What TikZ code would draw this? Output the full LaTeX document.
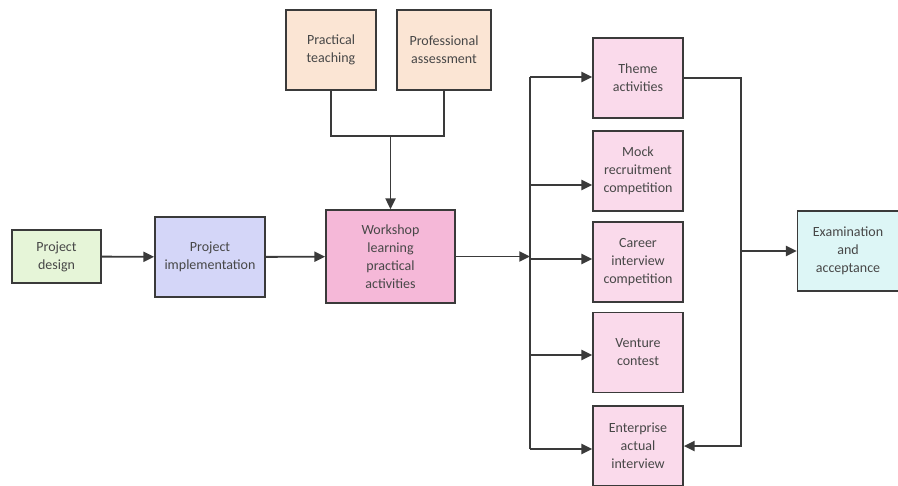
\documentclass[tikz,border=0pt]{standalone}
\usepackage{fontspec}
\setmainfont{Carlito}
\usepackage{tikz}
\usepackage{xcolor}
\usetikzlibrary{arrows.meta}
\definecolor{linegray}{HTML}{3A3A3A}
\definecolor{designgreen}{HTML}{E6F5D8}
\definecolor{implblue}{HTML}{D4D6F8}
\definecolor{workpink}{HTML}{F5B8D8}
\definecolor{peach}{HTML}{FBE5D4}
\definecolor{lightpink}{HTML}{FADAEB}
\definecolor{lightcyan}{HTML}{DDF6F6}

\begin{document}
\begin{tikzpicture}[
  x=0.75pt, y=-0.75pt,
  box/.style={draw=linegray, line width=1.3pt, align=center, inner sep=2pt,
    font=\fontsize{10.5}{13.5}\selectfont, text=black!72},
  arr/.style={draw=linegray, line width=1.4pt, -{Triangle[length=8pt,width=7.5pt]}},
  ln/.style={draw=linegray, line width=1.4pt},
]
  \useasboundingbox (0,0) rectangle (898,485);

  % Main row
  \node[box, fill=designgreen, minimum width=66.75pt, minimum height=39.75pt] (design) at (56.5,256.5) {Project\\design};
  \node[box, fill=implblue, minimum width=82.5pt, minimum height=60pt] (impl) at (210,257) {Project\\implementation};
  \node[box, fill=workpink, minimum width=96.75pt, minimum height=69.75pt] (work) at (390.5,256.5) {Workshop\\learning\\practical\\activities};

  % Top inputs
  \node[box, fill=peach, minimum width=67.5pt, minimum height=60pt] (teach) at (331,50) {Practical\\teaching};
  \node[box, fill=peach, minimum width=70.5pt, minimum height=60pt] (assess) at (444,50) {Professional\\assessment};

  % Right column
  \node[box, fill=lightpink, minimum width=67.5pt, minimum height=60pt] (theme) at (638,78) {Theme\\activities};
  \node[box, fill=lightpink, minimum width=67.5pt, minimum height=60pt] (mock) at (638,171) {Mock\\recruitment\\competition};
  \node[box, fill=lightpink, minimum width=67.5pt, minimum height=60pt] (career) at (638,262) {Career\\interview\\competition};
  \node[box, fill=lightpink, minimum width=67.5pt, minimum height=60pt] (venture) at (638,352.5) {Venture\\contest};
  \node[box, fill=lightpink, minimum width=67.5pt, minimum height=60pt] (enter) at (638,446) {Enterprise\\actual\\interview};

  \node[box, fill=lightcyan, minimum width=75.75pt, minimum height=60pt] (exam) at (848,251) {Examination\\and\\acceptance};

  % Connectors
  \draw[arr] (design) -- (impl);
  \draw[arr] (impl) -- (work);

  \coordinate (join) at (390.5,136);
  \draw[ln] (teach.south) |- (join) -| (assess.south);
  \draw[arr] (join) -- (work.north);

  \coordinate (split) at (530,256.5);
  \draw[arr] (work.east) -- (split);
  \coordinate (t1) at (530,77);
  \coordinate (t2) at (530,185);
  \coordinate (t3) at (530,259);
  \coordinate (t4) at (530,355);
  \coordinate (t5) at (530,449);
  \draw[ln] (t1) -- (t5);
  \draw[arr] (t1) -- (t1 -| theme.west);
  \draw[arr] (t2) -- (t2 -| mock.west);
  \draw[arr] (t3) -- (t3 -| career.west);
  \draw[arr] (t4) -- (t4 -| venture.west);
  \draw[arr] (t5) -- (t5 -| enter.west);

  \coordinate (merge) at (741,251);
  \draw[arr] (theme.east) -| (merge) |- (enter.east);
  \draw[arr] (merge) -- (exam.west);
\end{tikzpicture}
\end{document}
